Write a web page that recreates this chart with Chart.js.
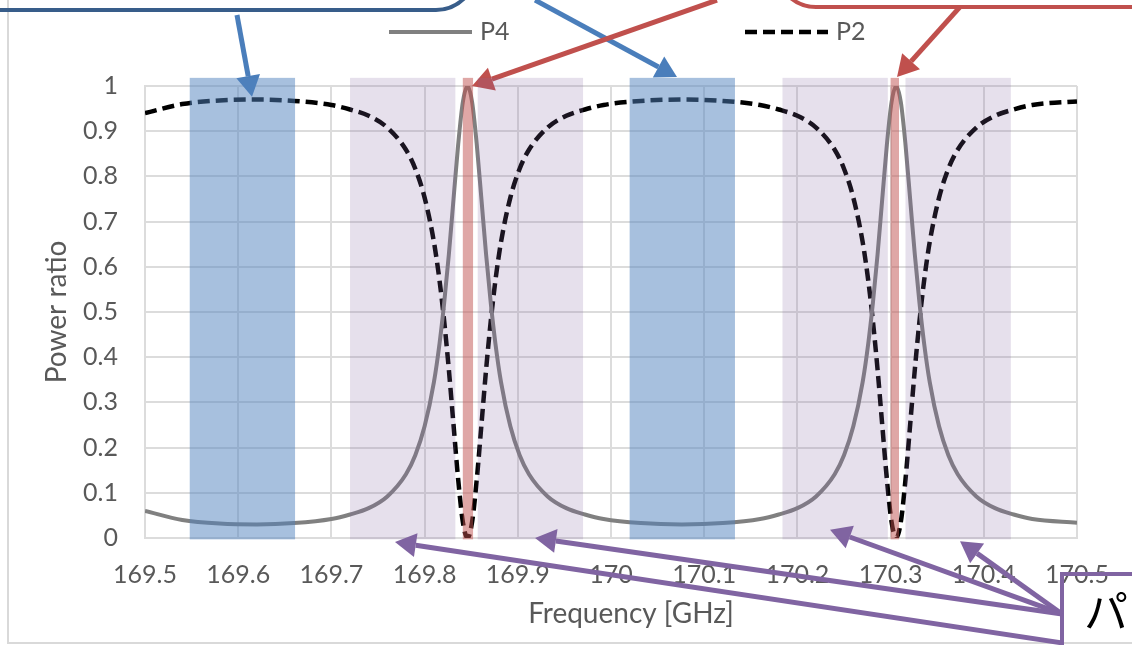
<!DOCTYPE html>
<html>
<head>
<meta charset="utf-8">
<script src="https://cdn.jsdelivr.net/npm/chart.js@4.4.1/dist/chart.umd.min.js"></script>
<style>
  html, body { margin: 0; padding: 0; background: #fff; }
  #wrap { width: 1132px; height: 645px; position: relative; }
</style>
</head>
<body>
<div id="wrap"><canvas id="chart"></canvas></div>
<script>
// Frequency sweep [GHz] and the two output port power ratios
const freqGHz = [
  169.500, 169.540, 169.580, 169.620, 169.660, 169.700, 169.720, 169.740, 169.760, 169.780,
  169.790, 169.800, 169.810, 169.816, 169.821, 169.826, 169.831, 169.836, 169.841, 169.846,
  169.851, 169.856, 169.861, 169.866, 169.871, 169.876, 169.882, 169.892, 169.902, 169.912,
  169.932, 169.952, 169.972, 169.992, 170.032, 170.076, 170.120, 170.160, 170.180, 170.200,
  170.220, 170.240, 170.250, 170.260, 170.270, 170.276, 170.281, 170.286, 170.291, 170.296,
  170.301, 170.306, 170.311, 170.316, 170.321, 170.326, 170.331, 170.336, 170.342, 170.352,
  170.362, 170.372, 170.392, 170.412, 170.432, 170.452, 170.500
];
const p4Ratio = [
  0.060, 0.040, 0.032, 0.030, 0.033, 0.042, 0.052, 0.066, 0.092, 0.141,
  0.183, 0.247, 0.345, 0.430, 0.520, 0.627, 0.749, 0.870, 0.964, 1.000,
  0.964, 0.870, 0.749, 0.627, 0.520, 0.430, 0.345, 0.247, 0.183, 0.141,
  0.092, 0.066, 0.052, 0.042, 0.033, 0.030, 0.033, 0.042, 0.052, 0.066,
  0.092, 0.141, 0.183, 0.247, 0.345, 0.430, 0.520, 0.627, 0.749, 0.870,
  0.964, 1.000, 0.964, 0.870, 0.749, 0.627, 0.520, 0.430, 0.345, 0.247,
  0.183, 0.141, 0.092, 0.066, 0.052, 0.042, 0.034
];
const p2Ratio = [
  0.940, 0.960, 0.968, 0.970, 0.967, 0.958, 0.948, 0.934, 0.908, 0.859,
  0.817, 0.753, 0.655, 0.570, 0.480, 0.373, 0.251, 0.130, 0.036, 0.000,
  0.036, 0.130, 0.251, 0.373, 0.480, 0.570, 0.655, 0.753, 0.817, 0.859,
  0.908, 0.934, 0.948, 0.958, 0.967, 0.970, 0.967, 0.958, 0.948, 0.934,
  0.908, 0.859, 0.817, 0.753, 0.655, 0.570, 0.480, 0.373, 0.251, 0.130,
  0.036, 0.000, 0.036, 0.130, 0.251, 0.373, 0.480, 0.570, 0.655, 0.753,
  0.817, 0.859, 0.908, 0.934, 0.948, 0.958, 0.966
];

const xTickLabels = ['169.5', '169.6', '169.7', '169.8', '169.9', '170', '170.1', '170.2', '170.3', '170.4', '170.5'];
const yTickLabels = ['0', '0.1', '0.2', '0.3', '0.4', '0.5', '0.6', '0.7', '0.8', '0.9', '1'];

// frequency windows [GHz] shaded over the plot
const passBands = [[169.548, 169.661], [170.020, 170.133]];
const edgeBands = [[169.720, 169.833], [169.857, 169.970], [170.184, 170.297], [170.316, 170.429]];
const peakBands = [[169.841, 169.852], [170.300, 170.309]];

const TEXT = '#595959';
const FONT = 'Lato, "Open Sans", sans-serif';

// callout arrows, [fromX, fromY, toX, toY] in axis units
const callouts = {
  blue: { color: '#4a7ebb', arrows: [[169.5987, 1.157, 169.6148, 0.976], [169.9185, 1.19, 170.0708, 1.02]] },
  red: { color: '#c0504d', arrows: [[170.1137, 1.19, 169.8509, 1.0], [170.3745, 1.175, 170.3069, 1.02]] },
  purple: {
    color: '#8064a2',
    arrows: [
      [170.4839, -0.232, 169.7682, -0.009],
      [170.4839, -0.168, 169.9185, 0.0],
      [170.4839, -0.168, 170.2350, 0.018],
      [170.4839, -0.168, 170.3745, -0.007],
    ],
  },
};

function drawArrow(ctx, x1, y1, x2, y2, color) {
  const ang = Math.atan2(y2 - y1, x2 - x1);
  const len = 21, half = 12;
  const bx = x2 - len * Math.cos(ang);
  const by = y2 - len * Math.sin(ang);
  ctx.save();
  ctx.strokeStyle = color;
  ctx.fillStyle = color;
  ctx.lineWidth = 5;
  ctx.beginPath();
  ctx.moveTo(x1, y1);
  ctx.lineTo(bx, by);
  ctx.stroke();
  ctx.beginPath();
  ctx.moveTo(x2, y2);
  ctx.lineTo(bx + half * Math.sin(ang), by - half * Math.cos(ang));
  ctx.lineTo(bx - half * Math.sin(ang), by + half * Math.cos(ang));
  ctx.closePath();
  ctx.fill();
  ctx.restore();
}

const framePlugin = {
  id: 'frame',
  beforeDraw(chart) {
    const ctx = chart.ctx;
    ctx.save();
    ctx.fillStyle = '#fff';
    ctx.fillRect(0, 0, chart.width, chart.height);
    ctx.strokeStyle = '#d9d9d9';
    ctx.lineWidth = 2;
    ctx.beginPath();
    ctx.moveTo(8, 0);
    ctx.lineTo(8, 643);
    ctx.lineTo(chart.width, 643);
    ctx.stroke();
    ctx.restore();
  },
};

const overlayPlugin = {
  id: 'overlay',
  afterDatasetsDraw(chart) {
    const ctx = chart.ctx;
    const xs = chart.scales.x, ys = chart.scales.y;
    const px = (v) => xs.getPixelForValue(v);
    const py = (v) => ys.getPixelForValue(v);

    // callout boxes, mostly outside the canvas
    ctx.save();
    ctx.lineWidth = 4;
    ctx.strokeStyle = '#385d8a';
    ctx.beginPath();
    ctx.roundRect(-60, -120, 536, 130, 40);
    ctx.stroke();
    ctx.strokeStyle = '#c0504d';
    ctx.beginPath();
    ctx.roundRect(776, -120, 420, 127, 40);
    ctx.stroke();
    ctx.strokeStyle = '#8064a2';
    ctx.strokeRect(1062, 574, 200, 120);
    ctx.fillStyle = '#000';
    ctx.font = '44px "Noto Sans CJK JP", sans-serif';
    ctx.textBaseline = 'middle';
    ctx.textAlign = 'left';
    ctx.fillText('パ', 1084, 611);
    ctx.restore();

    Object.values(callouts).forEach((c) => {
      c.arrows.forEach(([x1, y1, x2, y2]) => drawArrow(ctx, px(x1), py(y1), px(x2), py(y2), c.color));
    });

    // shaded frequency windows
    const top = py(1.018), bottom = py(-0.003);
    const shade = (bands, color) => {
      ctx.fillStyle = color;
      bands.forEach(([a, b]) => ctx.fillRect(px(a), top, px(b) - px(a), bottom - top));
    };
    ctx.save();
    shade(passBands, 'rgba(79,129,189,0.5)');
    shade(edgeBands, 'rgba(128,100,162,0.2)');
    shade(peakBands, 'rgba(192,80,77,0.5)');
    ctx.restore();

    // axis titles
    ctx.save();
    ctx.fillStyle = TEXT;
    ctx.font = '28px ' + FONT;
    ctx.textAlign = 'center';
    ctx.textBaseline = 'middle';
    ctx.fillText('Frequency [GHz]', 631, 614);
    ctx.translate(57, (chart.chartArea.top + chart.chartArea.bottom) / 2);
    ctx.rotate(-Math.PI / 2);
    ctx.fillText('Power ratio', 0, 0);
    ctx.restore();

    // legend
    ctx.save();
    ctx.font = '25px ' + FONT;
    ctx.textBaseline = 'middle';
    ctx.textAlign = 'left';
    const items = [[389, chart.data.datasets[0]], [745, chart.data.datasets[1]]];
    items.forEach(([x0, ds]) => {
      ctx.strokeStyle = ds.borderColor;
      ctx.lineWidth = ds.borderWidth;
      ctx.setLineDash(ds.borderDash || []);
      ctx.beginPath();
      ctx.moveTo(x0, 32);
      ctx.lineTo(x0 + 83, 32);
      ctx.stroke();
      ctx.setLineDash([]);
      ctx.fillStyle = TEXT;
      ctx.fillText(ds.label, x0 + 91, 32);
    });
    ctx.restore();
  },
};

new Chart(document.getElementById('chart'), {
  type: 'line',
  data: {
    datasets: [
      {
        label: 'P4',
        data: freqGHz.map((f, i) => ({ x: f, y: p4Ratio[i] })),
        borderColor: '#808080',
        borderWidth: 4,
        pointRadius: 0,
        cubicInterpolationMode: 'monotone',
      },
      {
        label: 'P2',
        data: freqGHz.map((f, i) => ({ x: f, y: p2Ratio[i] })),
        borderColor: '#000000',
        borderWidth: 4.5,
        borderDash: [12, 6],
        pointRadius: 0,
        cubicInterpolationMode: 'monotone',
      },
    ],
  },
  options: {
    responsive: true,
    maintainAspectRatio: false,
    animation: false,
    layout: { padding: { left: 8, right: 55, top: 86, bottom: 0 } },
    plugins: {
      legend: { display: false },
      tooltip: { enabled: false },
    },
    scales: {
      x: {
        type: 'linear',
        min: 169.5,
        max: 170.5,
        afterFit: (scale) => { scale.height = 107; },
        ticks: {
          stepSize: 0.1,
          autoSkip: false,
          maxRotation: 0,
          padding: 22,
          color: TEXT,
          font: { family: FONT, size: 25 },
          callback: (value, index) => xTickLabels[index],
        },
        grid: { color: '#dcdcdc', lineWidth: 2, drawTicks: false },
        border: { color: '#dcdcdc', width: 2 },
      },
      y: {
        min: 0,
        max: 1,
        afterFit: (scale) => { scale.width = 137; },
        ticks: {
          stepSize: 0.1,
          padding: 27,
          color: TEXT,
          font: { family: FONT, size: 25 },
          callback: (value, index) => yTickLabels[index],
        },
        grid: { color: '#dcdcdc', lineWidth: 2, drawTicks: false },
        border: { color: '#dcdcdc', width: 2 },
      },
    },
  },
  plugins: [framePlugin, overlayPlugin],
});
</script>
</body>
</html>
